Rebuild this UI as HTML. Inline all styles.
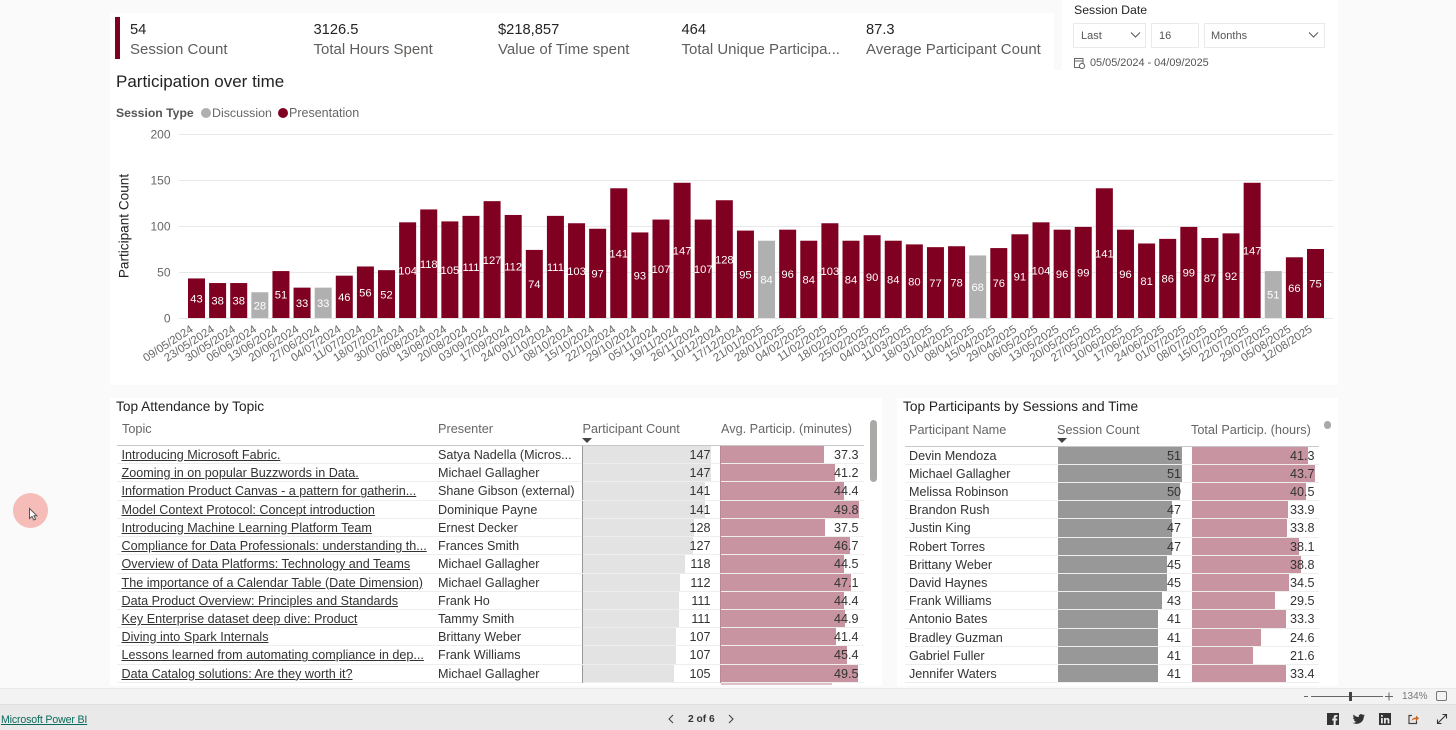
<!DOCTYPE html>
<html lang="en">
<head>
<meta charset="utf-8">
<title>Participation over time</title>
<style>
html,body{margin:0;padding:0;}
body{width:1456px;height:730px;overflow:hidden;position:relative;background:#fafafa;font-family:"Liberation Sans",sans-serif;color:#333;}
.abs{position:absolute;white-space:nowrap;}
.panel{position:absolute;background:#fff;}
.kv{position:absolute;top:21px;font-size:14.7px;line-height:18px;color:#252423;white-space:nowrap;}
.kl{position:absolute;top:41px;font-size:15px;line-height:18px;color:#605e5c;white-space:nowrap;}
.box{position:absolute;top:23px;height:23px;border:1px solid #eaeaea;background:#fff;font-size:11px;line-height:25px;color:#555;box-sizing:content-box;}
.hdr{position:absolute;font-size:12.7px;line-height:16px;color:#666;white-space:nowrap;}
.cell{position:absolute;font-size:12.6px;line-height:18px;color:#333;white-space:nowrap;}
.num{text-align:right;}
.bar{position:absolute;}
.rowline{position:absolute;height:1px;background:#eeeeee;}
.tick{position:absolute;width:1px;background:#555;}
svg text{font-family:"Liberation Sans",sans-serif;}
</style>
</head>
<body>

<div class="panel" style="left:110px;top:13px;width:944px;height:57px;"></div>
<div class="panel" style="left:110px;top:70px;width:1228px;height:315px;"></div>
<div class="panel" style="left:1062px;top:0;width:276px;height:72px;"></div>
<div class="panel" style="left:110px;top:398px;width:772px;height:288px;overflow:hidden;"></div>
<div class="panel" style="left:897px;top:398px;width:441px;height:288px;overflow:hidden;"></div>

<div class="abs" style="left:115px;top:17px;width:5px;height:42px;background:#7f0020;"></div>
<div class="kv" style="left:130px;">54</div>
<div class="kl" style="left:130px;">Session Count</div>
<div class="kv" style="left:313.5px;">3126.5</div>
<div class="kl" style="left:313.5px;">Total Hours Spent</div>
<div class="kv" style="left:498px;">$218,857</div>
<div class="kl" style="left:498px;">Value of Time spent</div>
<div class="kv" style="left:681.5px;">464</div>
<div class="kl" style="left:681.5px;">Total Unique Participa...</div>
<div class="kv" style="left:866px;">87.3</div>
<div class="kl" style="left:866px;">Average Participant Count</div>

<div class="abs" style="left:1074px;top:3px;font-size:12.3px;line-height:15px;color:#252423;">Session Date</div>
<div class="box" style="left:1073px;width:71px;text-indent:7px;">Last</div>
<div class="box" style="left:1151px;width:46px;text-indent:7px;">16</div>
<div class="box" style="left:1204px;width:119px;text-indent:6px;">Months</div>
<svg class="abs" style="left:1130px;top:31px;" width="12" height="8"><path d="M1 1.5 L5.5 6 L10 1.5" fill="none" stroke="#555" stroke-width="1"/></svg>
<svg class="abs" style="left:1308px;top:31px;" width="12" height="8"><path d="M1 1.5 L5.5 6 L10 1.5" fill="none" stroke="#555" stroke-width="1"/></svg>
<svg class="abs" style="left:1073px;top:57px;" width="13" height="13"><rect x="1.5" y="1.5" width="8.5" height="9" fill="none" stroke="#666"/><path d="M1.5 4 H10" stroke="#666"/><circle cx="9" cy="9" r="2.6" fill="#fff" stroke="#666"/></svg>
<div class="abs" style="left:1090px;top:56px;font-size:10.9px;line-height:14px;color:#555;">05/05/2024 - 04/09/2025</div>

<div class="abs" style="left:116px;top:72px;font-size:17px;line-height:20px;color:#222;">Participation over time</div>
<div class="abs" style="left:116px;top:105px;font-size:12.2px;line-height:16px;font-weight:bold;color:#555;">Session Type</div>
<div class="abs" style="left:201px;top:108px;width:10px;height:10px;border-radius:50%;background:#b0b0b0;"></div>
<div class="abs" style="left:212px;top:105px;font-size:12.4px;line-height:16px;color:#666;">Discussion</div>
<div class="abs" style="left:278px;top:108px;width:10px;height:10px;border-radius:50%;background:#7f0020;"></div>
<div class="abs" style="left:289px;top:105px;font-size:12.5px;line-height:16px;color:#666;">Presentation</div>

<svg id="chart" class="abs" style="left:0;top:0;" width="1456" height="390"></svg>

<div class="abs" style="left:116px;top:399px;font-size:13.7px;line-height:16px;color:#222;">Top Attendance by Topic</div>
<div class="abs" style="left:903px;top:399px;font-size:13.7px;line-height:16px;color:#222;">Top Participants by Sessions and Time</div>

<div id="t1" class="abs" style="left:0;top:0;width:1456px;height:685px;overflow:hidden;"></div>
<div id="t2" class="abs" style="left:0;top:0;width:1456px;height:685px;overflow:hidden;"></div>

<div class="abs" style="left:870px;top:420px;width:7px;height:62px;border-radius:3.5px;background:#a9a9a7;"></div>
<div class="abs" style="left:1324px;top:421px;width:7px;height:8px;border-radius:3.5px;background:#a9a9a7;"></div>

<div class="abs" style="left:13px;top:493px;width:35px;height:35px;border-radius:50%;background:#f6bcb8;"></div>
<svg class="abs" style="left:27px;top:507px;" width="12" height="15"><path d="M2.5 1.5 V11.5 L5 9.4 L6.8 13 L8.6 12.1 L6.9 8.7 H9.8 Z" fill="#fff" stroke="#555" stroke-width="1"/></svg>

<div class="abs" style="left:0;top:688px;width:1456px;height:16px;background:#f3f3f3;border-top:1px solid #e9e9e9;box-sizing:border-box;"></div>
<div class="abs" style="left:0;top:704px;width:1456px;height:26px;background:#e9e9e9;border-top:1px solid #dedede;box-sizing:border-box;"></div>
<svg class="abs" style="left:1300px;top:689px;" width="150" height="15"><path d="M4 7.5 H8 M11 7.5 H83 M85 7.5 H93 M89 3.5 V11.5" stroke="#666" stroke-width="1" fill="none"/><rect x="49" y="3" width="3" height="9" fill="#444"/><rect x="136.5" y="2.5" width="10" height="9" rx="1.5" fill="none" stroke="#777"/></svg>
<div class="abs" style="left:1402px;top:690px;font-size:10px;line-height:13px;color:#777;">134%</div>
<a class="abs" style="left:1px;top:713px;font-size:10.6px;letter-spacing:-0.15px;line-height:14px;color:#0b6a5b;text-decoration:underline;">Microsoft Power BI</a>
<svg class="abs" style="left:665px;top:713px;" width="12" height="12"><path d="M8 2 L4 6 L8 10" fill="none" stroke="#444" stroke-width="1.1"/></svg>
<div class="abs" style="left:688px;top:713px;font-size:10.2px;line-height:14px;font-weight:bold;color:#333;">2 of 6</div>
<svg class="abs" style="left:725px;top:713px;" width="12" height="12"><path d="M4 2 L8 6 L4 10" fill="none" stroke="#444" stroke-width="1.1"/></svg>
<svg class="abs" style="left:1327px;top:713px;" width="13" height="13"><rect width="12" height="12" fill="#333"/><path d="M8.7 12 V7.5 H10.2 L10.4 5.6 H8.7 V4.6 C8.7 4 8.9 3.7 9.6 3.7 H10.4 V2 H9 C7.4 2 6.6 3 6.6 4.4 V5.6 H5.2 V7.5 H6.6 V12 Z" fill="#e9e9e9"/></svg>
<svg class="abs" style="left:1352px;top:713px;" width="14" height="13"><path d="M13 2.3 C12.5 2.6 12 2.7 11.5 2.8 C12 2.4 12.4 2 12.6 1.4 C12.1 1.7 11.6 1.9 11 2 C10 1 8.5 0.9 7.5 1.8 C6.8 2.4 6.6 3.3 6.8 4.1 C4.7 4 2.8 3 1.5 1.5 C0.9 2.6 1.2 4 2.2 4.8 C1.8 4.8 1.4 4.7 1 4.5 C1 5.7 1.9 6.7 3 7 C2.6 7.1 2.3 7.1 1.9 7 C2.2 8 3.2 8.7 4.3 8.7 C3.2 9.6 1.8 10 0.5 9.8 C4.5 12.3 11.8 10.3 11.8 3.6 C12.3 3.3 12.7 2.8 13 2.3 Z" fill="#333"/></svg>
<svg class="abs" style="left:1379px;top:713px;" width="13" height="13"><rect width="12" height="12" fill="#333"/><path d="M2 5 H3.8 V10.5 H2 Z M2 2 H3.8 V3.7 H2 Z M5 5 H6.8 V5.8 C7.6 4.6 10.4 4.4 10.4 7 V10.5 H8.6 V7.4 C8.6 6 6.8 6 6.8 7.4 V10.5 H5 Z" fill="#e9e9e9"/></svg>
<svg class="abs" style="left:1407px;top:713px;" width="13" height="13"><path d="M5 2.5 H2 V10.5 H9.5 V7.5" fill="none" stroke="#444" stroke-width="1.2"/><path d="M4.5 8 C5 5.5 7 4.5 9 4.5 V2.5 L12 5.2 L9 8 V6.2 C7 6.2 5.5 6.6 4.5 8 Z" fill="#c9651f"/></svg>
<svg class="abs" style="left:1436px;top:713px;" width="12" height="12"><path d="M1.5 10.5 L10.5 1.5 M6.5 1.5 H10.5 V5.5 M1.5 6.5 V10.5 H5.5" fill="none" stroke="#333" stroke-width="1.1"/></svg>

<script>
var dates = ["09/05/2024","23/05/2024","30/05/2024","06/06/2024","13/06/2024","20/06/2024","27/06/2024","04/07/2024","11/07/2024","18/07/2024","30/07/2024","06/08/2024","13/08/2024","20/08/2024","03/09/2024","17/09/2024","24/09/2024","01/10/2024","08/10/2024","15/10/2024","22/10/2024","29/10/2024","05/11/2024","19/11/2024","26/11/2024","10/12/2024","17/12/2024","21/01/2025","28/01/2025","04/02/2025","11/02/2025","18/02/2025","25/02/2025","04/03/2025","11/03/2025","18/03/2025","01/04/2025","08/04/2025","15/04/2025","29/04/2025","06/05/2025","13/05/2025","20/05/2025","27/05/2025","10/06/2025","17/06/2025","24/06/2025","01/07/2025","08/07/2025","15/07/2025","22/07/2025","29/07/2025","05/08/2025","12/08/2025"];
var participantCounts = [43,38,38,28,51,33,33,46,56,52,104,118,105,111,127,112,74,111,103,97,141,93,107,147,107,128,95,84,96,84,103,84,90,84,80,77,78,68,76,91,104,96,99,141,96,81,86,99,87,92,147,51,66,75];
var sessionTypes = ["P","P","P","D","P","P","D","P","P","P","P","P","P","P","P","P","P","P","P","P","P","P","P","P","P","P","P","D","P","P","P","P","P","P","P","P","P","D","P","P","P","P","P","P","P","P","P","P","P","P","P","D","P","P"];
var yTicks = [0,50,100,150,200];

var topics = ["Introducing Microsoft Fabric.","Zooming in on popular Buzzwords in Data.","Information Product Canvas - a pattern for gatherin...","Model Context Protocol: Concept introduction","Introducing Machine Learning Platform Team","Compliance for Data Professionals: understanding th...","Overview of Data Platforms: Technology and Teams","The importance of a Calendar Table (Date Dimension)","Data Product Overview: Principles and Standards","Key Enterprise dataset deep dive: Product","Diving into Spark Internals","Lessons learned from automating compliance in dep...","Data Catalog solutions: Are they worth it?"];
var presenters = ["Satya Nadella (Micros...","Michael Gallagher","Shane Gibson (external)","Dominique Payne","Ernest Decker","Frances Smith","Michael Gallagher","Michael Gallagher","Frank Ho","Tammy Smith","Brittany Weber","Frank Williams","Michael Gallagher"];
var topicCounts = [147,147,141,141,128,127,118,112,111,111,107,107,105];
var topicAvgMinutes = [37.3,41.2,44.4,49.8,37.5,46.7,44.5,47.1,44.4,44.9,41.4,45.4,49.5];

var participantNames = ["Devin Mendoza","Michael Gallagher","Melissa Robinson","Brandon Rush","Justin King","Robert Torres","Brittany Weber","David Haynes","Frank Williams","Antonio Bates","Bradley Guzman","Gabriel Fuller","Jennifer Waters"];
var sessionCounts = [51,51,50,47,47,47,45,45,43,41,41,41,41];
var totalHours = [41.3,43.7,40.5,33.9,33.8,38.1,38.8,34.5,29.5,33.3,24.6,21.6,33.4];

var NS = "http://www.w3.org/2000/svg";
var chart = document.getElementById("chart");
function yScale(v){ return 318 - v * 0.92; }
function xScale(i){ return 188 + i * 21.113; }
var BAR_W = 17;

function svgEl(tag, attrs, text){
  var e = document.createElementNS(NS, tag);
  for (var k in attrs) e.setAttribute(k, attrs[k]);
  if (text !== undefined) e.textContent = text;
  chart.appendChild(e);
  return e;
}

yTicks.forEach(function(t){
  var line = svgEl("line", {x1:179, x2:1333, y1:yScale(t)+0.5, y2:yScale(t)+0.5, stroke: "#e8e8e8", "stroke-width":1});
  
  
  var lab = svgEl("text", {x:170.5, y:yScale(t)+4.5, "text-anchor":"end", "font-size":12, fill:"#666"}, String(t));
  
  
});

var yTitle = svgEl("text", {transform:"translate(128.5,226) rotate(-90)", "text-anchor":"middle", "font-size":13.6, fill:"#222"}, "Participant Count");



participantCounts.forEach(function(v,i){
  var x = xScale(i), top = yScale(v), h = 318 - top;
  var rect = svgEl("rect", {x:x, y:top, width:BAR_W, height:h, fill: sessionTypes[i]==="D" ? "#b0b0b0" : "#7f0020"});
  
  
  var lab = svgEl("text", {x:x+BAR_W/2, y:top+h/2+4.2, "text-anchor":"middle", "font-size":11.2, fill:"#fff"}, String(v));
  
  
  var cx = x + BAR_W/2 - 2.5;
  var tick = svgEl("text", {transform:"translate("+cx+",331) rotate(-33)", "text-anchor":"end", "font-size":11.4, fill:"#666"}, dates[i]);
  
  
});

var ROW_TOP = 446, ROW_H = 18.22;
function rowTop(i){ return ROW_TOP + i * ROW_H; }

function addDiv(parent, cls, style, text){
  var d = document.createElement("div");
  d.className = cls;
  d.style.cssText = style;
  if (text !== undefined) d.textContent = text;
  parent.appendChild(d);
  return d;
}

/* Topic table */
var t1 = document.getElementById("t1");
function t1CountW(v){ return v * 0.871; }
function t1AvgW(v){ return v * 2.77; }
var h;
h = addDiv(t1,"hdr","left:122px;top:421px;","Topic");


h = addDiv(t1,"hdr","left:438px;top:421px;","Presenter");


h = addDiv(t1,"hdr","left:582.5px;top:421px;","Participant Count");


h = addDiv(t1,"hdr","left:721px;top:421px;","Avg. Particip. (minutes)");


h = addDiv(t1,"abs","left:582px;top:438px;width:0;height:0;border-left:5px solid transparent;border-right:5px solid transparent;border-top:5px solid #444;");


h = addDiv(t1,"abs","left:117px;top:445px;width:747px;height:1px;background:#c8c8c8;");



topics.forEach(function(topic,i){
  var y = rowTop(i), c;
  c = addDiv(t1,"bar","left:582.5px;top:"+y+"px;width:"+t1CountW(topicCounts[i])+"px;height:17.2px;background:#e3e3e3;");
  
  
  c = addDiv(t1,"bar","left:721px;top:"+y+"px;width:"+t1AvgW(topicAvgMinutes[i])+"px;height:17.2px;background:#c994a1;");
  
  
  c = addDiv(t1,"rowline","left:117px;top:"+(y+17.2)+"px;width:747px;");
  
  
  c = addDiv(t1,"tick","left:581.5px;top:"+y+"px;height:18px;background:#999;");
  
  
  c = addDiv(t1,"tick","left:720px;top:"+y+"px;height:18px;background:#b98a96;");
  
  
  c = addDiv(t1,"cell","left:121.5px;top:"+y+"px;text-decoration:underline;",topic);
  
  
  c = addDiv(t1,"cell","left:438px;top:"+y+"px;",presenters[i]);
  
  
  c = addDiv(t1,"cell num","left:660px;width:50.5px;top:"+y+"px;",String(topicCounts[i]));
  
  
  c = addDiv(t1,"cell num","left:808px;width:50.5px;top:"+y+"px;",topicAvgMinutes[i].toFixed(1));
  
  
});
var partial = addDiv(t1,"bar","left:721px;top:683px;width:111px;height:2px;background:#dfc0c8;");



/* Participant table */
var t2 = document.getElementById("t2");
function t2SessW(v){ return v * 2.44; }
function t2HoursW(v){ return v * 2.82; }
h = addDiv(t2,"hdr","left:909px;top:422px;","Participant Name");


h = addDiv(t2,"hdr","left:1057px;top:422px;","Session Count");


h = addDiv(t2,"hdr","left:1191px;top:422px;","Total Particip. (hours)");


h = addDiv(t2,"abs","left:1057px;top:438px;width:0;height:0;border-left:5px solid transparent;border-right:5px solid transparent;border-top:5px solid #444;");


h = addDiv(t2,"abs","left:905px;top:445.5px;width:414px;height:1px;background:#c8c8c8;");



participantNames.forEach(function(name,i){
  var y = rowTop(i) + 0.5, c;
  c = addDiv(t2,"bar","left:1057.5px;top:"+y+"px;width:"+t2SessW(sessionCounts[i])+"px;height:17.2px;background:#989898;");
  
  
  c = addDiv(t2,"bar","left:1192px;top:"+y+"px;width:"+t2HoursW(totalHours[i])+"px;height:17.2px;background:#c994a1;");
  
  
  c = addDiv(t2,"rowline","left:905px;top:"+(y+17.2)+"px;width:414px;");
  
  
  c = addDiv(t2,"cell","left:909px;top:"+y+"px;",name);
  
  
  c = addDiv(t2,"cell num","left:1130px;width:51px;top:"+y+"px;",String(sessionCounts[i]));
  
  
  c = addDiv(t2,"cell num","left:1264px;width:50.5px;top:"+y+"px;",totalHours[i].toFixed(1));
  
  
});
</script>
</body>
</html>
